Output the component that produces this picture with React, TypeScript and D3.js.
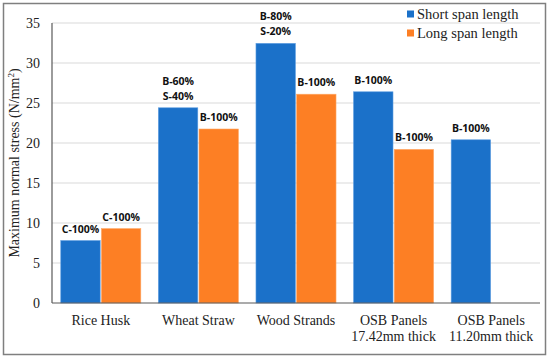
import React, { useEffect, useRef } from 'react';
import * as d3 from 'd3';

const categories = ['Rice Husk', 'Wheat Straw', 'Wood Strands', 'OSB Panels|17.42mm thick', 'OSB Panels|11.20mm thick'];
const seriesNames = ['Short span length', 'Long span length'];
const shortSpan = [7.8, 24.4, 32.45, 26.4, 20.4];
const longSpan: (number | null)[] = [9.3, 21.75, 26.1, 19.2, null];
const shortLabels = ['C-100%', 'B-60%|S-40%', 'B-80%|S-20%', 'B-100%', 'B-100%'];
const longLabels = ['C-100%', 'B-100%', 'B-100%', 'B-100%', ''];
const yTicks = [0, 5, 10, 15, 20, 25, 30, 35];

const App: React.FC = () => {
  const ref = useRef<HTMLDivElement>(null);

  useEffect(() => {
    if (!ref.current) return;
    const width = 550;
    const height = 358;
    const m = { left: 52, right: 10, top: 23, bottom: 55 };
    const colors = ['#1b71c9', '#fd7f24'];
    const serif = '"Liberation Serif", "Times New Roman", serif';
    const sans = '"Open Sans", "DejaVu Sans", sans-serif';

    const svg = d3.select(ref.current)
      .html('')
      .append('svg')
      .attr('width', width)
      .attr('height', height)
      .style('display', 'block');

    // outer frame
    svg.append('rect')
      .attr('x', 3.5).attr('y', 3.5)
      .attr('width', 542).attr('height', 351)
      .attr('fill', '#fff')
      .attr('stroke', '#7f7f7f')
      .attr('stroke-width', 1.5);

    const y = d3.scaleLinear().domain([0, 35]).range([height - m.bottom, m.top]);
    const x0 = d3.scaleBand<number>()
      .domain(d3.range(categories.length))
      .range([m.left, width - m.right])
      .paddingInner(0.18)
      .paddingOuter(0.09);
    const x1 = d3.scaleBand<number>()
      .domain([0, 1])
      .range([0, x0.bandwidth()])
      .paddingInner(0.03);

    // gridlines
    svg.append('g')
      .selectAll('line')
      .data(yTicks.slice(1))
      .enter()
      .append('line')
      .attr('x1', m.left).attr('x2', width - m.right)
      .attr('y1', d => y(d)).attr('y2', d => y(d))
      .attr('stroke', '#d9d9d9')
      .attr('stroke-width', 1);

    // y tick labels
    svg.append('g')
      .selectAll('text')
      .data(yTicks)
      .enter()
      .append('text')
      .attr('x', m.left - 12)
      .attr('y', d => y(d))
      .attr('dy', '0.35em')
      .attr('text-anchor', 'end')
      .attr('font-family', serif)
      .attr('font-size', '14px')
      .attr('fill', '#222')
      .text(d => d);

    // bars + labels
    const series = [shortSpan, longSpan];
    const labels = [shortLabels, longLabels];
    series.forEach((vals, s) => {
      const g = svg.append('g');
      vals.forEach((v, i) => {
        if (v == null) return;
        const bx = (x0(i) as number) + (x1(s) as number);
        g.append('rect')
          .attr('x', bx)
          .attr('y', y(v))
          .attr('width', x1.bandwidth())
          .attr('height', y(0) - y(v))
          .attr('fill', colors[s])
          .attr('stroke', s === 0 ? '#5a9be0' : '#ffa866')
          .attr('stroke-width', 0.6);
        const lines = labels[s][i].split('|').filter(l => l);
        lines.forEach((ln, k) => {
          g.append('text')
            .attr('x', bx + x1.bandwidth() / 2)
            .attr('y', y(v) - 8 - (lines.length - 1 - k) * 15)
            .attr('text-anchor', 'middle')
            .attr('font-family', sans)
            .attr('font-weight', 'bold')
            .attr('font-size', '10.5px')
            .attr('fill', '#111')
            .text(ln);
        });
      });
    });

    // axis lines
    svg.append('line')
      .attr('x1', m.left).attr('x2', m.left)
      .attr('y1', y(35)).attr('y2', y(0))
      .attr('stroke', '#595959').attr('stroke-width', 1.2);
    svg.append('line')
      .attr('x1', m.left).attr('x2', width - m.right)
      .attr('y1', y(0)).attr('y2', y(0))
      .attr('stroke', '#595959').attr('stroke-width', 1.2);

    // category labels
    categories.forEach((c, i) => {
      const cx = (x0(i) as number) + x0.bandwidth() / 2;
      c.split('|').forEach((ln, k) => {
        svg.append('text')
          .attr('x', cx)
          .attr('y', y(0) + 22 + k * 16)
          .attr('text-anchor', 'middle')
          .attr('font-family', serif)
          .attr('font-size', '14px')
          .attr('fill', '#222')
          .text(ln);
      });
    });

    // y axis title
    const title = svg.append('text')
      .attr('transform', `translate(19, ${(y(0) + y(35)) / 2}) rotate(-90)`)
      .attr('text-anchor', 'middle')
      .attr('font-family', serif)
      .attr('font-size', '14px')
      .attr('fill', '#222');
    title.append('tspan').text('Maximum normal stress (N/mm');
    title.append('tspan').attr('font-size', '9px').attr('dy', '-5').text('2');
    title.append('tspan').attr('dy', '5').text(')');

    // legend
    seriesNames.forEach((n, s) => {
      const ly = 14 + s * 19;
      svg.append('rect')
        .attr('x', 407).attr('y', ly - 3.5)
        .attr('width', 7).attr('height', 7)
        .attr('fill', colors[s]);
      svg.append('text')
        .attr('x', 417).attr('y', ly)
        .attr('dy', '0.35em')
        .attr('font-family', serif)
        .attr('font-size', '14.5px')
        .attr('fill', '#222')
        .text(n);
    });
  }, []);

  return <div ref={ref} style={{ position: 'absolute', left: 0, top: 0 }}></div>;
};

export default App;
